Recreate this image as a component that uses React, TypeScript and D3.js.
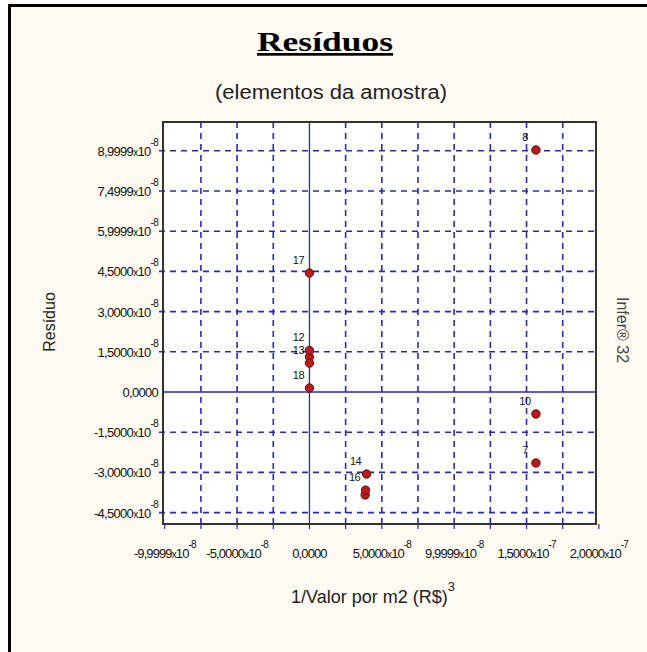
import React, { useRef, useEffect } from "react";
import * as d3 from "d3";

// tick values and the labels the original program printed for them
const xTickValues = [-1e-7, -5e-8, 0, 5e-8, 1e-7, 1.5e-7, 2e-7];
const xTickMantissas = ["-9,9999", "-5,0000", "0,0000", "5,0000", "9,9999", "1,5000", "2,0000"];
const xTickExps = ["-8", "-8", "", "-8", "-8", "-7", "-7"];
const xGridValues = [-7.5e-8, -5e-8, -2.5e-8, 2.5e-8, 5e-8, 7.5e-8, 1e-7, 1.25e-7, 1.5e-7, 1.75e-7];

const yTickValues = [9e-8, 7.5e-8, 6e-8, 4.5e-8, 3e-8, 1.5e-8, 0, -1.5e-8, -3e-8, -4.5e-8];
const yTickMantissas = ["8,9999", "7,4999", "5,9999", "4,5000", "3,0000", "1,5000", "0,0000", "-1,5000", "-3,0000", "-4,5000"];
const yTickExps = ["-8", "-8", "-8", "-8", "-8", "-8", "", "-8", "-8", "-8"];

// sample elements (residuals); empty label = hidden under a neighbour's label
const pointLabels = ["8", "17", "", "12", "13", "18", "10", "7", "14", "", "16"];
const pointX = [1.565e-7, 0, 0, 0, 0, 0, 1.565e-7, 1.565e-7, 3.95e-8, 3.85e-8, 3.88e-8];
const pointY = [9.03e-8, 4.44e-8, 1.31e-8, 1.55e-8, 1.08e-8, 1.5e-9, -8.2e-9, -2.65e-8, -3.06e-8, -3.84e-8, -3.66e-8];

const W = 647;
const H = 652;
const plot = { left: 163, right: 596, top: 122, bottom: 524 };
const sans = "Liberation Sans, Arial, sans-serif";

const App = () => {
  const svgRef = useRef(null);

  useEffect(() => {
    const svg = d3.select(svgRef.current);
    svg.selectAll("*").remove();

    const x = d3.scaleLinear().domain([-1.012e-7, 1.98e-7]).range([plot.left, plot.right]);
    const y = d3.scaleLinear().domain([-4.925e-8, 1.0075e-7]).range([plot.bottom, plot.top]);

    // outer panel
    svg.append("rect").attr("width", W).attr("height", H).attr("fill", "#ffffff");
    svg.append("rect")
      .attr("x", 9.5).attr("y", 5.5)
      .attr("width", W + 20).attr("height", H + 20)
      .attr("fill", "#fffaf2").attr("stroke", "#000").attr("stroke-width", 3);

    // titles
    svg.append("text")
      .attr("x", 325).attr("y", 51)
      .attr("text-anchor", "middle")
      .attr("font-family", "Liberation Serif, serif")
      .attr("font-weight", "bold")
      .attr("font-size", 27)
      .attr("text-decoration", "underline")
      .attr("textLength", 136)
      .attr("lengthAdjust", "spacingAndGlyphs")
      .text("Resíduos");
    svg.append("text")
      .attr("x", 331).attr("y", 99)
      .attr("text-anchor", "middle")
      .attr("font-family", sans)
      .attr("font-size", 20)
      .attr("textLength", 232)
      .attr("lengthAdjust", "spacingAndGlyphs")
      .attr("fill", "#222")
      .text("(elementos da amostra)");

    // plot area
    svg.append("rect")
      .attr("x", plot.left).attr("y", plot.top)
      .attr("width", plot.right - plot.left).attr("height", plot.bottom - plot.top)
      .attr("fill", "#ffffff");

    const grid = svg.append("g")
      .attr("stroke", "#2a2ab4").attr("stroke-width", 1.6)
      .attr("stroke-dasharray", "6,5");
    grid.selectAll("line.h")
      .data(yTickValues.filter((v) => v !== 0))
      .enter().append("line")
      .attr("x1", plot.left - 4).attr("x2", plot.right)
      .attr("y1", (d) => y(d)).attr("y2", (d) => y(d));
    grid.selectAll("line.v")
      .data(xGridValues)
      .enter().append("line")
      .attr("x1", (d) => x(d)).attr("x2", (d) => x(d))
      .attr("y1", plot.top).attr("y2", plot.bottom);

    // x tick marks below the plot
    svg.append("g").attr("stroke", "#2a2ab4").attr("stroke-width", 1.2)
      .selectAll("line")
      .data([-1e-7, ...xGridValues, 0, 2e-7])
      .enter().append("line")
      .attr("x1", (d) => x(d)).attr("x2", (d) => x(d))
      .attr("y1", plot.bottom).attr("y2", plot.bottom + 5);

    // zero axes
    svg.append("line")
      .attr("x1", plot.left).attr("x2", plot.right)
      .attr("y1", y(0)).attr("y2", y(0))
      .attr("stroke", "#2a2ab4").attr("stroke-width", 1.3);
    svg.append("line")
      .attr("x1", x(0)).attr("x2", x(0))
      .attr("y1", plot.top).attr("y2", plot.bottom)
      .attr("stroke", "#2a2ab4").attr("stroke-width", 1.3);

    // plot frame
    svg.append("rect")
      .attr("x", plot.left).attr("y", plot.top)
      .attr("width", plot.right - plot.left).attr("height", plot.bottom - plot.top)
      .attr("fill", "none").attr("stroke", "#333").attr("stroke-width", 2);

    // y tick labels
    const yl = svg.append("g")
      .attr("font-family", sans)
      .attr("font-size", 13).attr("letter-spacing", -0.7).attr("fill", "#111");
    yTickValues.forEach((v, i) => {
      const t = yl.append("text").attr("x", 158).attr("y", y(v) + 5).attr("text-anchor", "end");
      t.append("tspan").text(yTickMantissas[i]);
      if (yTickExps[i]) {
        t.append("tspan").attr("font-size", 10).text("x");
        t.append("tspan").text("10");
        t.append("tspan").attr("font-size", 10).attr("dy", -10).text(yTickExps[i]);
      }
    });

    // x tick labels
    const xl = svg.append("g")
      .attr("font-family", sans)
      .attr("font-size", 13).attr("letter-spacing", -0.9).attr("fill", "#111");
    xTickValues.forEach((v, i) => {
      const t = xl.append("text").attr("x", x(v)).attr("y", 558).attr("text-anchor", "middle");
      t.append("tspan").text(xTickMantissas[i]);
      if (xTickExps[i]) {
        t.append("tspan").attr("font-size", 10).text("x");
        t.append("tspan").text("10");
        t.append("tspan").attr("font-size", 10).attr("dy", -10).text(xTickExps[i]);
      }
    });

    // axis titles
    const xt = svg.append("text")
      .attr("x", 373).attr("y", 603)
      .attr("text-anchor", "middle")
      .attr("font-family", sans)
      .attr("font-size", 18).attr("fill", "#222");
    xt.append("tspan").text("1/Valor por m2 (R$)");
    xt.append("tspan").attr("font-size", 13).attr("dy", -12).text("3");

    svg.append("text")
      .attr("transform", "translate(55,322) rotate(-90)")
      .attr("text-anchor", "middle")
      .attr("font-family", sans)
      .attr("font-size", 16).attr("fill", "#222")
      .text("Resíduo");
    svg.append("text")
      .attr("transform", "translate(617,330) rotate(90)")
      .attr("text-anchor", "middle")
      .attr("font-family", sans)
      .attr("font-size", 16).attr("fill", "#444")
      .text("Infer® 32");

    // points and their labels
    const pts = pointLabels.map((label, i) => ({ label, x: pointX[i], y: pointY[i] }));
    const pg = svg.append("g");
    pts.filter((p) => p.label).forEach((p) => {
      pg.append("text")
        .attr("x", x(p.x) - 11).attr("y", y(p.y) - 9)
        .attr("text-anchor", "middle")
        .attr("font-family", sans)
        .attr("font-size", 11).attr("letter-spacing", -0.5)
        .attr("fill", "#111")
        .text(p.label);
    });
    pg.selectAll("circle")
      .data(pts)
      .enter().append("circle")
      .attr("cx", (d) => x(d.x)).attr("cy", (d) => y(d.y))
      .attr("r", 4.2)
      .attr("fill", "#b81c1c").attr("stroke", "#6e0808").attr("stroke-width", 1);
  }, []);

  return (
    <svg
      ref={svgRef}
      width={W}
      height={H}
      style={{ position: "absolute", left: 0, top: 0 }}
    />
  );
};

export default App;
